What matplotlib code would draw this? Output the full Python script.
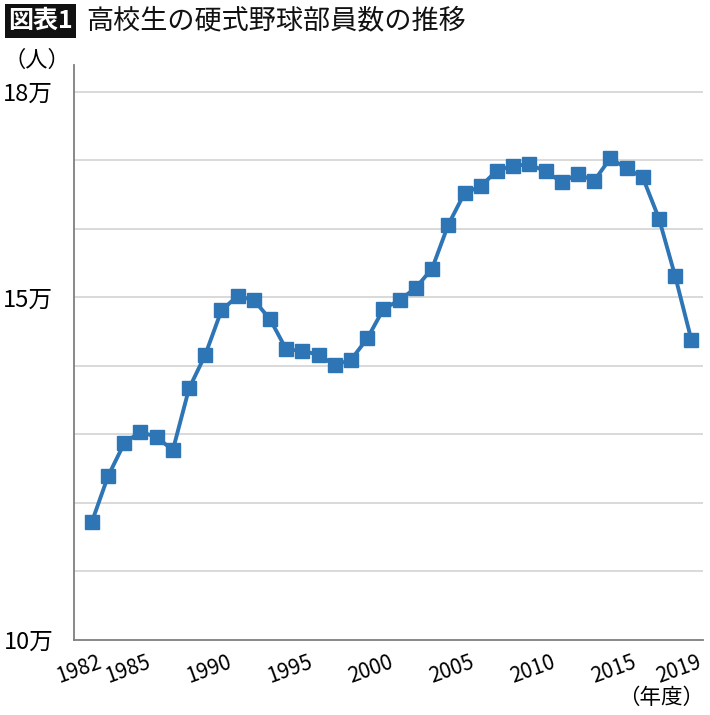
import numpy as np
import matplotlib.pyplot as plt
import matplotlib.transforms as mtransforms
from matplotlib.patches import Rectangle

plt.rcParams['font.family'] = ['Noto Sans CJK JP', 'DejaVu Sans']

years = list(range(1982, 2020))
members = [117200, 123900, 128700, 130400, 129600, 127700, 136700, 141600,
           148100, 150200, 149600, 146800, 142400, 142200, 141600, 140100,
           140900, 144000, 148300, 149600, 151400, 154200, 160600, 165200,
           166200, 168500, 169200, 169400, 168400, 166800, 168000, 167000,
           170300, 168800, 167500, 161500, 153100, 143800]

xtick_years = [1982, 1985, 1990, 1995, 2000, 2005, 2010, 2015, 2019]
ytick_vals = [100000, 150000, 180000]
ytick_labels = ['10万', '15万', '18万']
title = '高校生の硬式野球部員数の推移'
badge = '図表1'

blue = '#2E75B6'

fig = plt.figure(figsize=(7.1, 7.15), dpi=100)
ax = fig.add_axes([74/710, 1 - 640/715, (702.7 - 74)/710, (640 - 65)/715])

ax.plot(years, members, color=blue, lw=2.8, marker='s', markersize=9.5,
        markerfacecolor=blue, markeredgecolor=blue, zorder=3)

ax.set_xlim(1980.9, 2019.7)
ax.set_ylim(100000, 183900)

# gridlines every 1万
for v in np.arange(110000, 181000, 10000):
    ax.axhline(v, color='#d9d9d9', lw=1.4, zorder=1)

ax.set_yticks(ytick_vals)
ax.set_yticklabels(ytick_labels, fontsize=17)
ax.set_xticks(xtick_years)
ax.set_xticklabels([str(y) for y in xtick_years], fontsize=15,
                   rotation=20, ha='right', rotation_mode='anchor')
ax.tick_params(axis='both', length=0)
ax.tick_params(axis='y', pad=15)
ax.tick_params(axis='x', pad=8)
off = mtransforms.ScaledTranslation(5/100, 0, fig.dpi_scale_trans)
for lab in ax.get_xticklabels():
    lab.set_transform(lab.get_transform() + off)

for s in ['top', 'right']:
    ax.spines[s].set_visible(False)
for s in ['left', 'bottom']:
    ax.spines[s].set_color('#7f7f7f')
    ax.spines[s].set_linewidth(1.3)

# title badge
fig.patches.append(Rectangle((5/710, 1 - 38/715), 71/710, 34/715,
                             transform=fig.transFigure, facecolor='#111111',
                             edgecolor='none'))
fig.text(40/710, 1 - 21/715, badge, color='white', fontsize=18,
         fontweight='bold', ha='center', va='center')
fig.text(86/710, 1 - 21/715, title, color='#111111', fontsize=19.5,
         ha='left', va='center')

fig.text(37/710, 1 - 60/715, '（人）', fontsize=16, ha='center', va='center')
fig.text(704/710, 1 - 698/715, '（年度）', fontsize=15.5, ha='right', va='center')

fig.savefig('out.png', dpi=100, facecolor='white')
